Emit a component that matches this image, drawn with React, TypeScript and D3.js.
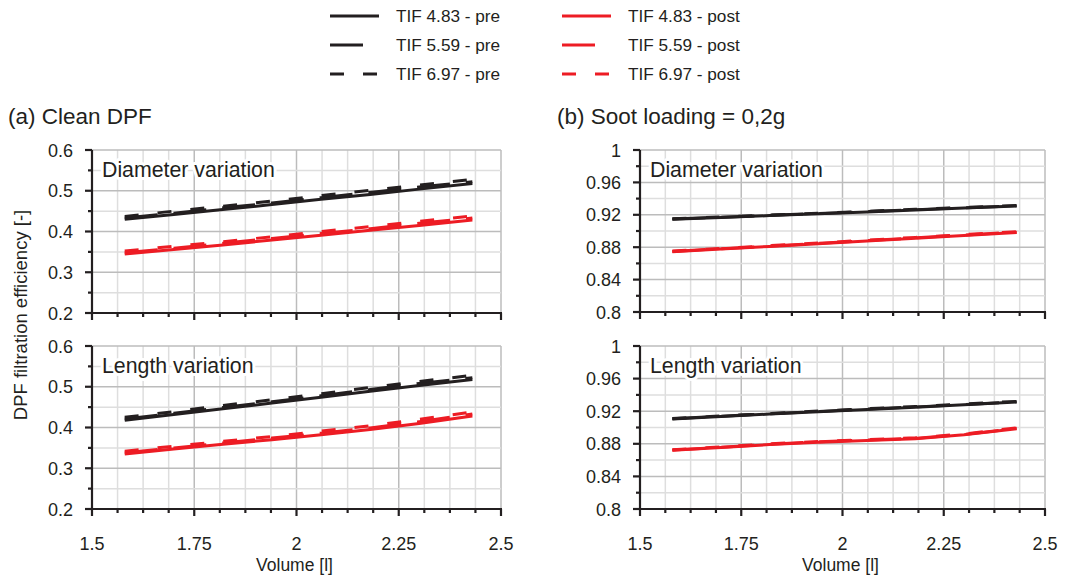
import React from "react";
import * as d3 from "d3";

const W = 1067;
const H = 579;

const xValues = [1.58, 1.70, 1.82, 1.94, 2.06, 2.18, 2.30, 2.43];
const xTickLabels = ["1.5", "1.75", "2", "2.25", "2.5"];
const seriesNames = ["TIF 4.83 - pre", "TIF 5.59 - pre", "TIF 6.97 - pre", "TIF 4.83 - post", "TIF 5.59 - post", "TIF 6.97 - post"];

// (a) Clean DPF - Diameter variation
const aDiaPre483 = [0.430, 0.442, 0.454, 0.466, 0.479, 0.491, 0.504, 0.518];
const aDiaPre559 = [0.433, 0.445, 0.458, 0.470, 0.483, 0.496, 0.509, 0.522];
const aDiaPre697 = [0.437, 0.450, 0.462, 0.475, 0.488, 0.501, 0.514, 0.528];
const aDiaPost483 = [0.345, 0.356, 0.367, 0.379, 0.391, 0.403, 0.415, 0.428];
const aDiaPost559 = [0.348, 0.359, 0.371, 0.383, 0.395, 0.407, 0.420, 0.433];
const aDiaPost697 = [0.352, 0.364, 0.375, 0.387, 0.400, 0.412, 0.425, 0.438];

// (a) Clean DPF - Length variation
const aLenPre483 = [0.418, 0.432, 0.446, 0.460, 0.474, 0.489, 0.503, 0.518];
const aLenPre559 = [0.421, 0.435, 0.449, 0.463, 0.478, 0.493, 0.508, 0.522];
const aLenPre697 = [0.425, 0.439, 0.454, 0.468, 0.483, 0.498, 0.513, 0.528];
const aLenPost483 = [0.335, 0.347, 0.359, 0.370, 0.382, 0.395, 0.410, 0.428];
const aLenPost559 = [0.338, 0.350, 0.362, 0.374, 0.386, 0.399, 0.414, 0.433];
const aLenPost697 = [0.342, 0.354, 0.366, 0.378, 0.391, 0.404, 0.420, 0.438];

// (b) Soot loading - Diameter variation
const bDiaPre483 = [0.9145, 0.9167, 0.9190, 0.9213, 0.9236, 0.9260, 0.9283, 0.9308];
const bDiaPre559 = [0.9147, 0.9170, 0.9193, 0.9216, 0.9239, 0.9263, 0.9287, 0.9312];
const bDiaPre697 = [0.9150, 0.9173, 0.9196, 0.9220, 0.9243, 0.9267, 0.9291, 0.9316];
const bDiaPost483 = [0.8745, 0.8777, 0.8810, 0.8843, 0.8877, 0.8911, 0.8945, 0.8980];
const bDiaPost559 = [0.8748, 0.8781, 0.8814, 0.8847, 0.8881, 0.8915, 0.8950, 0.8986];
const bDiaPost697 = [0.8752, 0.8785, 0.8819, 0.8852, 0.8887, 0.8921, 0.8956, 0.8992];

// (b) Soot loading - Length variation
const bLenPre483 = [0.9105, 0.9135, 0.9165, 0.9194, 0.9222, 0.9248, 0.9278, 0.9312];
const bLenPre559 = [0.9107, 0.9138, 0.9168, 0.9197, 0.9225, 0.9252, 0.9282, 0.9316];
const bLenPre697 = [0.9110, 0.9141, 0.9172, 0.9201, 0.9230, 0.9257, 0.9287, 0.9321];
const bLenPost483 = [0.8720, 0.8755, 0.8790, 0.8820, 0.8842, 0.8862, 0.8910, 0.8985];
const bLenPost559 = [0.8723, 0.8758, 0.8794, 0.8824, 0.8846, 0.8867, 0.8915, 0.8990];
const bLenPost697 = [0.8727, 0.8763, 0.8799, 0.8829, 0.8852, 0.8873, 0.8921, 0.8996];

const leftYTicks = ["0.2", "0.3", "0.4", "0.5", "0.6"];
const rightYTicks = ["0.8", "0.84", "0.88", "0.92", "0.96", "1"];

const BLACK = "#231f20";
const RED = "#ed1c24";
const FONT = "'Liberation Sans', Arial, Helvetica, sans-serif";
const styles = [
  { color: BLACK, dash: "none" },
  { color: BLACK, dash: "33,16" },
  { color: BLACK, dash: "14,19" },
  { color: RED, dash: "none" },
  { color: RED, dash: "33,16" },
  { color: RED, dash: "14,19" },
];

type PanelProps = {
  x0: number; x1: number; y0: number; y1: number;
  yDomain: [number, number]; yMajor: number; yMinor: number;
  yTicks: string[]; series: number[][]; label: string; showX: boolean;
};

function Panel(p: PanelProps) {
  const xs = d3.scaleLinear().domain([1.5, 2.5]).range([p.x0, p.x1]);
  const ys = d3.scaleLinear().domain(p.yDomain).range([p.y1, p.y0]);
  const xMinorTicks = d3.range(0, 17).map((i) => 1.5 + i * 0.0625);
  const nY = Math.round((p.yDomain[1] - p.yDomain[0]) / p.yMinor);
  const yMinorTicks = d3.range(0, nY + 1).map((i) => p.yDomain[0] + i * p.yMinor);
  const isMajorY = (v: number) => Math.abs(v / p.yMajor - Math.round(v / p.yMajor)) < 1e-6;
  const isMajorX = (v: number) => Math.abs(v / 0.25 - Math.round(v / 0.25)) < 1e-6;
  const line = d3.line<number>().x((_, i) => xs(xValues[i])).y((d) => ys(d));
  return (
    <g>
      {xMinorTicks.map((v, i) => (
        <line key={"gx" + i} x1={xs(v)} x2={xs(v)} y1={p.y0} y2={p.y1}
          stroke={isMajorX(v) ? "#bcbcbc" : "#dedede"} strokeWidth={1.5} />
      ))}
      {yMinorTicks.map((v, i) => (
        <line key={"gy" + i} x1={p.x0} x2={p.x1} y1={ys(v)} y2={ys(v)}
          stroke={isMajorY(v) ? "#bcbcbc" : "#dedede"} strokeWidth={1.5} />
      ))}
      <text x={p.x0 + 10} y={p.y0 + 27} fontFamily={FONT} fontSize={21.3} fill={BLACK}
        stroke="#fff" strokeWidth={6} paintOrder="stroke" strokeLinejoin="round">{p.label}</text>
      {p.series.map((s, i) => (
        <path key={"s" + i} d={line(s) || ""} fill="none" stroke={styles[i].color}
          strokeWidth={3} strokeDasharray={styles[i].dash} />
      ))}
      {/* axes */}
      <line x1={p.x0} x2={p.x0} y1={p.y0} y2={p.y1 + 1} stroke={BLACK} strokeWidth={2.2} />
      <line x1={p.x0 - 1} x2={p.x1 + 1} y1={p.y1} y2={p.y1} stroke={BLACK} strokeWidth={2.2} />
      {yMinorTicks.map((v, i) => (
        <line key={"ty" + i} x1={p.x0 - (isMajorY(v) ? 7 : 4)} x2={p.x0} y1={ys(v)} y2={ys(v)}
          stroke={BLACK} strokeWidth={2.2} />
      ))}
      {xMinorTicks.map((v, i) => (
        <line key={"tx" + i} x1={xs(v)} x2={xs(v)} y1={p.y1} y2={p.y1 + (isMajorX(v) ? 7 : 4)}
          stroke={BLACK} strokeWidth={2.2} />
      ))}
      {p.yTicks.map((t) => (
        <text key={"yl" + t} x={p.x0 - 19} y={ys(+t) + 6.5} textAnchor="end" fontFamily={FONT}
          fontSize={18} fill={BLACK}>{t}</text>
      ))}
      {p.showX && xTickLabels.map((t) => (
        <text key={"xl" + t} x={xs(+t)} y={p.y1 + 41} textAnchor="middle" fontFamily={FONT}
          fontSize={18} fill={BLACK}>{t}</text>
      ))}
      {p.showX && (
        <text x={(p.x0 + p.x1) / 2 - 2} y={p.y1 + 62} textAnchor="middle" fontFamily={FONT}
          fontSize={17.5} fill={BLACK}>Volume [l]</text>
      )}
    </g>
  );
}

export default function App() {
  const legendRows = [16, 45, 74];
  return (
    <svg width={W} height={H} style={{ position: "absolute", left: 0, top: 0, background: "#fff" }}>
      <rect width={W} height={H} fill="#fff" />
      {seriesNames.map((name, i) => {
        const col = i < 3 ? 0 : 1;
        const row = i % 3;
        const lx = col === 0 ? 330 : 562;
        const ly = legendRows[row];
        return (
          <g key={name}>
            <line x1={lx} x2={lx + 49} y1={ly} y2={ly} stroke={styles[i].color} strokeWidth={3}
              strokeDasharray={styles[i].dash} />
            <text x={lx + 66} y={ly + 6} fontFamily={FONT} fontSize={17.2} fill={BLACK}>{name}</text>
          </g>
        );
      })}
      <text x={8} y={124} fontFamily={FONT} fontSize={22.5} fill={BLACK}>(a) Clean DPF</text>
      <text x={557} y={124} fontFamily={FONT} fontSize={22.5} fill={BLACK}>(b) Soot loading = 0,2g</text>
      <text transform="translate(27,315) rotate(-90)" textAnchor="middle" fontFamily={FONT}
        fontSize={18.5} fill={BLACK}>DPF filtration efficiency [-]</text>
      <Panel x0={92} x1={501} y0={150} y1={313} yDomain={[0.2, 0.6]} yMajor={0.1} yMinor={0.05}
        yTicks={leftYTicks} label="Diameter variation" showX={false}
        series={[aDiaPre483, aDiaPre559, aDiaPre697, aDiaPost483, aDiaPost559, aDiaPost697]} />
      <Panel x0={92} x1={501} y0={346} y1={509} yDomain={[0.2, 0.6]} yMajor={0.1} yMinor={0.05}
        yTicks={leftYTicks} label="Length variation" showX={true}
        series={[aLenPre483, aLenPre559, aLenPre697, aLenPost483, aLenPost559, aLenPost697]} />
      <Panel x0={640} x1={1045} y0={150} y1={312} yDomain={[0.8, 1]} yMajor={0.04} yMinor={0.02}
        yTicks={rightYTicks} label="Diameter variation" showX={false}
        series={[bDiaPre483, bDiaPre559, bDiaPre697, bDiaPost483, bDiaPost559, bDiaPost697]} />
      <Panel x0={640} x1={1045} y0={346} y1={509} yDomain={[0.8, 1]} yMajor={0.04} yMinor={0.02}
        yTicks={rightYTicks} label="Length variation" showX={true}
        series={[bLenPre483, bLenPre559, bLenPre697, bLenPost483, bLenPost559, bLenPost697]} />
    </svg>
  );
}
